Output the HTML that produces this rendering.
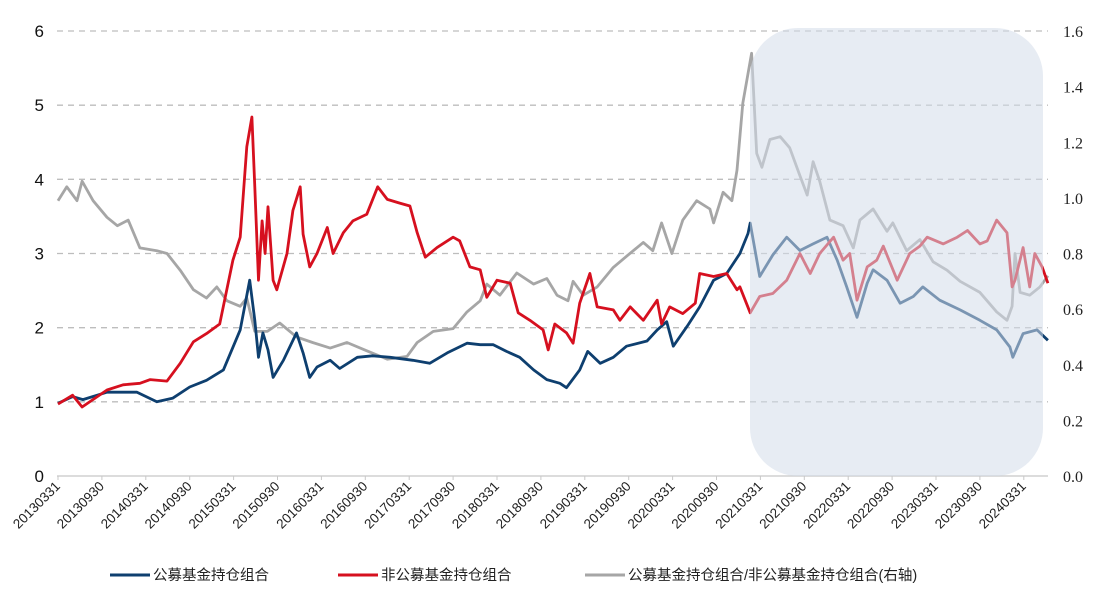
<!DOCTYPE html>
<html><head><meta charset="utf-8"><style>
body{margin:0;background:#fff;}
svg{display:block;font-family:"Liberation Sans","Noto Sans CJK SC",sans-serif;}
</style></head><body>
<svg id="chart" width="1095" height="597"></svg>
<script>
const xTickLabels=["20130331","20130930","20140331","20140930","20150331","20150930","20160331","20160930","20170331","20170930","20180331","20180930","20190331","20190930","20200331","20200930","20210331","20210930","20220331","20220930","20230331","20230930","20240331"];
const leftTicks=[0,1,2,3,4,5,6];
const rightTicks=["0.0","0.2","0.4","0.6","0.8","1.0","1.2","1.4","1.6"];
// months since 2013-03-31
const blueT=[0,2,3.4,6.7,10.8,13.5,15.7,18,20.3,22.6,24.9,26.2,26.9,27.4,28,28.7,29.4,30.8,32.6,33.5,34.4,35.4,37.2,38.5,40.9,43,45.4,48.5,50.8,53.2,55.9,57.7,59.5,61.3,63.1,65,66.8,68.6,69.5,71.3,72.4,74.1,75.9,77.7,80.5,81.9,83.2,84.1,86,87.7,89.6,91.4,93.2,94.3,94.6,95.9,97.7,99.6,101.4,103.2,105.1,106.5,107.8,109.2,110.6,111.4,113.3,115.1,116.9,118.2,120.5,123.3,126,128.3,130.1,130.5,131.9,133.8,135.3];
const blueV=[0.98,1.07,1.03,1.13,1.13,1.0,1.05,1.2,1.29,1.43,1.97,2.64,2.1,1.6,1.93,1.7,1.33,1.56,1.93,1.66,1.33,1.47,1.56,1.45,1.6,1.62,1.6,1.56,1.52,1.66,1.79,1.77,1.77,1.68,1.6,1.43,1.3,1.25,1.19,1.43,1.68,1.52,1.6,1.75,1.82,1.97,2.08,1.75,2.02,2.28,2.64,2.73,3.0,3.27,3.41,2.69,2.98,3.22,3.04,3.13,3.22,2.91,2.55,2.14,2.6,2.78,2.64,2.33,2.42,2.55,2.37,2.24,2.1,1.97,1.74,1.6,1.92,1.97,1.83];
const redT=[0,2,3.3,6.7,8.9,11.2,12.6,14.9,16.7,18.5,20.3,22.1,23.9,24.9,25.8,26.5,26.9,27.4,27.9,28.3,28.7,29.4,29.9,31.3,32.1,33.1,33.5,34.4,35.4,36.8,37.6,39,40.3,42.2,43.7,45,46.7,48.1,49.1,50.2,51.8,54,54.9,56.3,57.7,58.6,60,61.8,62.9,64.5,66.3,67,67.9,69.5,70.4,71.3,72.7,73.7,75.9,76.8,78.2,80,81.9,82.5,83.6,85.4,87.1,87.7,89.6,91.4,92.8,93.2,94.6,95.9,97.7,99.6,101.4,102.8,104.1,106,107.3,108.2,109.2,110.6,111.9,112.8,114.7,116.4,117.8,118.8,121,122.9,124.3,126,127,128.3,129.7,130.4,130.8,131.9,132.8,133.5,134.5,135.3];
const redV=[0.97,1.09,0.93,1.16,1.23,1.25,1.3,1.28,1.52,1.81,1.92,2.05,2.91,3.22,4.44,4.84,3.9,2.64,3.44,3.0,3.63,2.64,2.51,3.0,3.58,3.9,3.26,2.82,3.0,3.35,3.0,3.28,3.44,3.53,3.9,3.73,3.68,3.64,3.28,2.95,3.08,3.22,3.17,2.82,2.78,2.41,2.64,2.6,2.2,2.1,1.97,1.7,2.05,1.93,1.79,2.33,2.73,2.28,2.24,2.1,2.28,2.1,2.37,2.05,2.28,2.19,2.33,2.73,2.69,2.73,2.51,2.55,2.2,2.42,2.46,2.64,3.0,2.73,3.0,3.22,2.91,3.0,2.37,2.82,2.91,3.1,2.64,3.0,3.1,3.22,3.13,3.22,3.31,3.13,3.17,3.45,3.28,2.55,2.64,3.08,2.55,3.0,2.82,2.6];
const grayT=[0,1.2,2.6,3.3,4.8,6.7,8.1,9.6,11.2,13.5,14.9,16.7,18.5,20.3,21.7,23.1,24.9,25.8,26.9,28.6,30.3,32.6,34.8,37.2,39.5,42.2,45,47.7,49.1,51.3,54,55.9,57.7,58.6,60.4,62.7,65,66.8,68.2,69.7,70.4,71.8,73.7,75.9,77.7,80,81.3,82.5,83.9,85.4,87.3,89.1,89.6,90.9,92.1,92.8,93.6,94.8,95.5,96.2,97.3,98.7,100,101.4,102.4,103.2,104.1,105.5,107.3,108.7,109.6,111.4,113.3,114.1,116,117.8,119.6,121.5,123.3,126,128.3,129.7,130.4,130.8,131.5,132.8,134.2,135.3];
const grayV=[0.99,1.04,0.99,1.06,0.99,0.93,0.9,0.92,0.82,0.81,0.8,0.74,0.67,0.64,0.68,0.63,0.61,0.64,0.52,0.52,0.55,0.5,0.48,0.46,0.48,0.45,0.42,0.43,0.48,0.52,0.53,0.59,0.63,0.69,0.65,0.73,0.69,0.71,0.65,0.63,0.7,0.65,0.68,0.75,0.79,0.84,0.81,0.91,0.8,0.92,0.99,0.96,0.91,1.02,0.99,1.1,1.34,1.52,1.16,1.11,1.21,1.22,1.18,1.08,1.01,1.13,1.06,0.92,0.9,0.82,0.92,0.96,0.88,0.91,0.81,0.85,0.77,0.74,0.7,0.66,0.59,0.56,0.61,0.8,0.66,0.65,0.68,0.72];

const NS="http://www.w3.org/2000/svg";
const svg=document.getElementById('chart');
const X0=58,HALF=43.9,Y0=476,YT=31;
const xs=t=>X0+t*HALF/6;
const yL=v=>Y0-v*(Y0-YT)/6;
const yR=v=>Y0-v*(Y0-YT)/1.6;
function mk(tag,attrs,parent){const e=document.createElementNS(NS,tag);for(const k in attrs)e.setAttribute(k,attrs[k]);(parent||svg).appendChild(e);return e;}

leftTicks.forEach(v=>{
  if(v>0){const g=mk('line',{x1:57,x2:1048,y1:yL(v),y2:yL(v),stroke:'#bdbdbd','stroke-width':1.3,'stroke-dasharray':'6,5'});
  
  }
  const t=mk('text',{x:44,y:yL(v)+6,'text-anchor':'end','font-size':17,fill:'#111'});t.textContent=v;
  
  
});
const base=mk('line',{x1:57,x2:1048,y1:Y0,y2:Y0,stroke:'#d0d0d0','stroke-width':1.5});


rightTicks.forEach(s=>{
  const t=mk('text',{x:1063,y:yR(parseFloat(s))+6,'font-size':16,fill:'#222','font-family':'Liberation Serif, serif'});t.textContent=s;
  
  
});
function line(T,V,ys,color,name){
  const d=T.map((t,i)=>(i?'L':'M')+xs(t).toFixed(1)+','+ys(V[i]).toFixed(1)).join('');
  const p=mk('path',{d:d,fill:'none',stroke:color,'stroke-width':2.8,'stroke-linejoin':'round'});
  
  
}
line(grayT,grayV,yR,'#a6a6a6','series-ratio-right-axis');
line(blueT,blueV,yL,'#0e3f6f','series-public-fund');
line(redT,redV,yL,'#d6101f','series-non-public-fund');
const sh=mk('rect',{x:750,y:28,width:293,height:448,rx:48,ry:48,fill:'rgb(212,221,233)','fill-opacity':0.55});


xTickLabels.forEach((s,i)=>{
  const x=X0+i*HALF;
  const tk=mk('line',{x1:x,x2:x,y1:Y0,y2:Y0+4,stroke:'#c8c8c8','stroke-width':1});
  
  
  const t=mk('text',{x:x+3,y:Y0+11,'text-anchor':'end','font-size':13.5,fill:'#222',transform:`rotate(-45 ${x+3} ${Y0+11})`});t.textContent=s;
  
  
});
const leg=[[110,'#0e3f6f','公募基金持仓组合'],[338,'#d6101f','非公募基金持仓组合'],[585,'#a6a6a6','公募基金持仓组合/非公募基金持仓组合(右轴)']];
leg.forEach((l,i)=>{
  const g=mk('g',{});
  
  
  mk('line',{x1:l[0],x2:l[0]+40,y1:575,y2:575,stroke:l[1],'stroke-width':3},g);
  const t=mk('text',{x:l[0]+43,y:580,'font-size':14.5,fill:'#222'},g);t.textContent=l[2];
});
</script>
</body></html>
